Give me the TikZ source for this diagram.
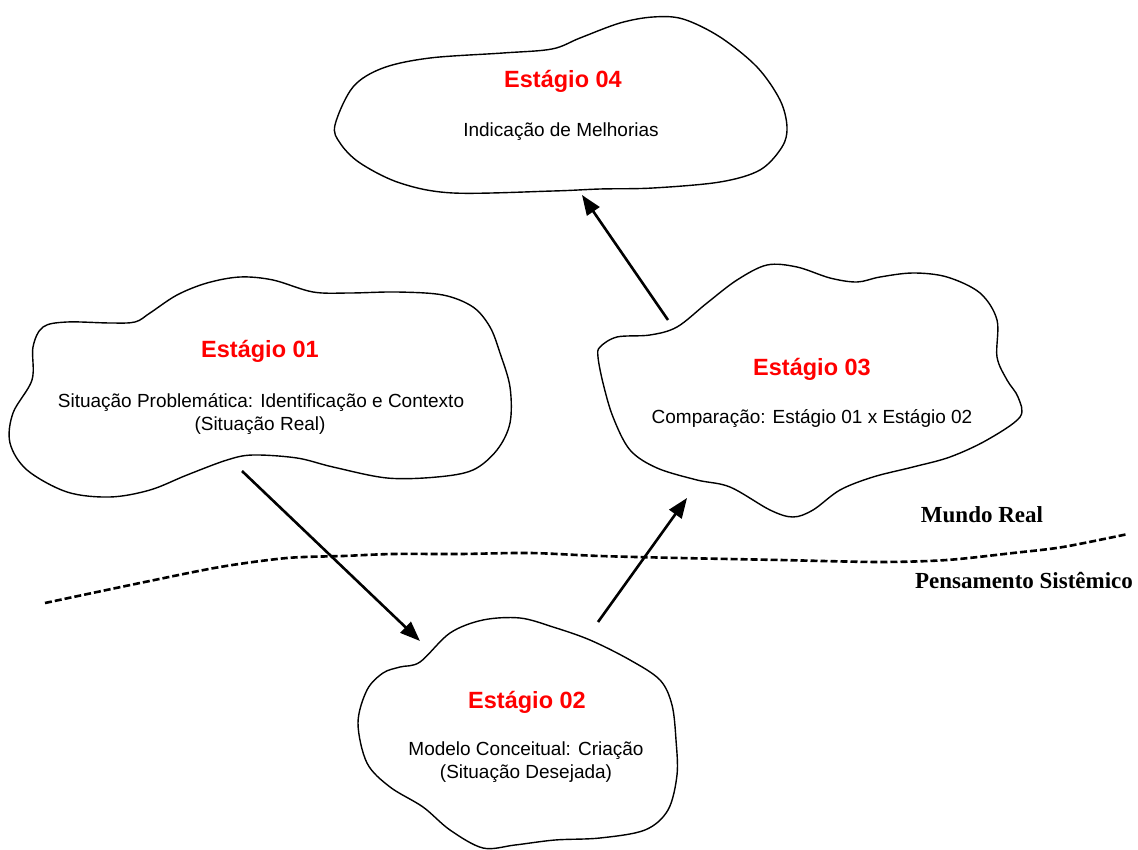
\documentclass[tikz,border=0pt]{standalone}
\usepackage{fontspec}
\setmainfont{Liberation Serif}
\newfontfamily\arialfont{Liberation Sans}
\usetikzlibrary{arrows.meta}
\definecolor{stagered}{RGB}{255,0,0}
\tikzset{
  cloudline/.style={draw=black, line width=1.4pt, line join=round},
  flow/.style={draw=black, line width=2.6pt, -{Triangle[length=20pt,width=15pt]}},
  border/.style={draw=black, line width=2.6pt, dash pattern=on 7pt off 3pt},
  stagetitle/.style={anchor=base, text=stagered, font=\arialfont\bfseries\fontsize{23.5}{28}\selectfont, inner sep=0pt},
  stagetext/.style={anchor=base, text=black, font=\arialfont\fontsize{19}{23}\selectfont, inner sep=0pt},
  worldlabel/.style={anchor=base, text=black, font=\bfseries\fontsize{23}{27}\selectfont, inner sep=0pt},
}
\begin{document}
\begin{tikzpicture}[x=1pt,y=-1pt]
\useasboundingbox (0,0) rectangle (1138,850);

% Stage 04 cloud
\draw[cloudline] plot[smooth cycle, tension=0.55] coordinates {
  (335,125) (353,87) (383,68) (430,58) (503,53) (552,49) (580,38) (620,23)
  (653,17) (683,19) (720,37) (757,67) (780,100) (787,127) (782,147) (760,170)
  (720,182) (653,188) (600,189) (553,191) (453,193) (400,183) (360,163) (340,143)};

% Stage 01 cloud
\draw[cloudline] plot[smooth cycle, tension=0.55] coordinates {
  (43,327) (67,322) (110,323) (135,322) (150,313) (177,295) (207,283) (240,277)
  (273,280) (313,292) (350,293) (397,292) (443,295) (473,307) (490,327) (500,353)
  (510,387) (510,423) (497,450) (473,470) (437,477) (387,478) (333,467) (297,458)
  (253,455) (227,460) (187,475) (150,490) (110,497) (67,492) (27,470) (10,443)
  (13,413) (32,380) (33,347)};

% Stage 03 cloud
\draw[cloudline] plot[smooth cycle, tension=0.55] coordinates {
  (600,347) (617,337) (650,335) (677,327) (707,303) (737,280) (767,265) (797,267)
  (830,278) (857,282) (880,277) (913,273) (947,277) (980,293) (997,320) (997,357)
  (1007,380) (1018,397) (1020,417) (987,440) (950,457) (913,467) (873,477) (840,490)
  (813,510) (793,517) (770,510) (730,487) (697,480) (657,468) (630,450) (613,417)
  (603,383) (598,357)};

% Stage 02 cloud
\draw[cloudline] plot[smooth cycle, tension=0.55] coordinates {
  (420,662) (450,633) (483,620) (520,618) (553,627) (590,640) (630,660) (660,680)
  (672,705) (676,740) (677,775) (668,810) (645,830) (600,838) (555,840) (515,845)
  (483,848) (450,830) (423,807) (390,787) (367,763) (358,723) (367,690) (383,673)
  (400,667)};

% Stage texts
\node[stagetitle] (t4) at (563,88) {Estágio 04};
\node[stagetext]  (d4) at (561,137) {Indicação de Melhorias};

\node[stagetitle] (t1) at (260,357) {Estágio 01};
\node[stagetext]  (d1) at (261,407) {Situação Problemática: Identificação e Contexto};
\node[stagetext]  (e1) at (260,430) {(Situação Real)};

\node[stagetitle] (t3) at (812,375) {Estágio 03};
\node[stagetext]  (d3) at (812,423) {Comparação: Estágio 01 x Estágio 02};

\node[stagetitle] (t2) at (527,708) {Estágio 02};
\node[stagetext]  (d2) at (526,755) {Modelo Conceitual: Criação};
\node[stagetext]  (e2) at (526,778) {(Situação Desejada)};

% Boundary between the real world and systems thinking
\draw[border] plot[smooth, tension=0.5] coordinates {
  (45,603) (140,583) (220,567) (287,558) (343,556) (393,554) (460,554) (530,553)
  (600,556) (680,558) (780,560) (880,562) (947,560) (1013,553) (1063,547) (1128,534)};

\node[worldlabel] (mundo) at (982,522) {Mundo Real};
\node[worldlabel] (pens)  at (1024,588) {Pensamento Sistêmico};

% Flow between stages
\coordinate (s1out) at (242,471);
\coordinate (s2in)  at (420,641);
\coordinate (s2out) at (598,622);
\coordinate (s3in)  at (687,498);
\coordinate (s3out) at (668,320);
\coordinate (s4in)  at (582,195);
\draw[flow] (s1out) -- (s2in);
\draw[flow] (s2out) -- (s3in);
\draw[flow] (s3out) -- (s4in);
\end{tikzpicture}
\end{document}
